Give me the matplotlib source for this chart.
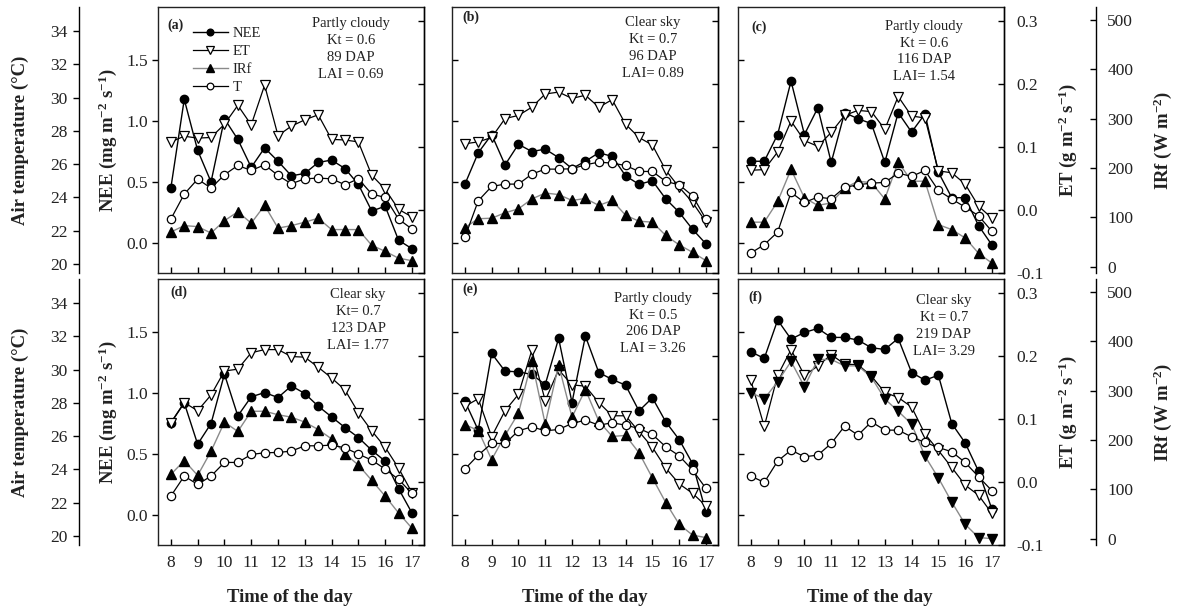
import matplotlib
matplotlib.use('Agg')
import matplotlib.pyplot as plt
from matplotlib.ticker import FormatStrFormatter

plt.rcParams['font.family'] = ['Liberation Serif', 'DejaVu Serif']
plt.rcParams['mathtext.default'] = 'regular'
plt.rcParams['axes.unicode_minus'] = False

# ---------------- data ----------------
hours = [8.0, 8.5, 9.0, 9.5, 10.0, 10.5, 11.0, 11.5, 12.0, 12.5,
         13.0, 13.5, 14.0, 14.5, 15.0, 15.5, 16.0, 16.5, 17.0]
hour_ticks = [8, 9, 10, 11, 12, 13, 14, 15, 16, 17]

NEE_a = [0.45, 1.18, 0.76, 0.50, 1.02, 0.85, 0.62, 0.78, 0.67, 0.55, 0.57, 0.66, 0.68, 0.61, 0.48, 0.26, 0.30, 0.02, -0.05]
ET_a = [0.108, 0.117, 0.114, 0.115, 0.136, 0.166, 0.135, 0.198, 0.118, 0.133, 0.143, 0.151, 0.112, 0.111, 0.108, 0.055, 0.033, 0.001, -0.011]
IRf_a = [70, 83, 81, 68, 93, 111, 88, 124, 78, 83, 90, 98, 75, 75, 75, 43, 31, 17, 12]
T_a = [22.7, 24.2, 25.1, 24.56, 25.36, 25.92, 25.62, 25.96, 25.32, 24.82, 25.12, 25.16, 25.12, 24.76, 25.12, 24.2, 24.0, 22.7, 22.1]

NEE_b = [0.48, 0.74, 0.89, 0.64, 0.81, 0.75, 0.77, 0.70, 0.61, 0.67, 0.74, 0.71, 0.55, 0.48, 0.51, 0.36, 0.25, 0.11, -0.01]
ET_b = [0.105, 0.108, 0.115, 0.145, 0.150, 0.163, 0.184, 0.187, 0.177, 0.182, 0.163, 0.175, 0.136, 0.115, 0.103, 0.063, 0.036, 0.012, -0.019]
IRf_b = [79, 97, 98, 109, 117, 137, 149, 146, 134, 138, 124, 134, 104, 92, 90, 63, 44, 29, 12]
T_b = [21.6, 23.8, 24.66, 24.8, 24.8, 25.4, 25.7, 25.7, 25.72, 25.96, 26.12, 26.06, 25.92, 25.56, 25.56, 24.96, 24.76, 24.1, 22.7]

NEE_c = [0.67, 0.67, 0.89, 1.33, 0.89, 1.11, 0.66, 1.07, 1.02, 0.98, 0.66, 1.07, 0.91, 1.06, 0.58, 0.37, 0.37, 0.14, -0.02]
ET_c = [0.063, 0.064, 0.092, 0.141, 0.110, 0.101, 0.123, 0.150, 0.158, 0.156, 0.128, 0.180, 0.149, 0.146, 0.062, 0.059, 0.041, 0.006, -0.013]
IRf_c = [90, 90, 132, 197, 139, 124, 129, 159, 173, 170, 137, 212, 173, 173, 85, 75, 58, 27, 7]
T_c = [20.66, 21.16, 21.92, 24.3, 23.7, 24.02, 23.92, 24.6, 24.76, 24.86, 24.9, 25.46, 25.26, 25.62, 24.42, 23.9, 23.42, 22.9, 21.96]

NEE_d = [0.755, 0.92, 0.58, 0.75, 1.157, 0.813, 0.97, 1.005, 0.964, 1.06, 0.997, 0.893, 0.805, 0.717, 0.635, 0.53, 0.44, 0.214, 0.014]
ET_d = [0.094, 0.126, 0.113, 0.138, 0.176, 0.179, 0.205, 0.210, 0.210, 0.199, 0.198, 0.182, 0.165, 0.146, 0.110, 0.081, 0.055, 0.022, -0.017]
IRf_d = [130, 158, 128, 177, 236, 217, 258, 258, 251, 246, 236, 221, 202, 172, 149, 118, 86, 52, 21]
T_d = [22.4, 23.6, 23.1, 23.6, 24.42, 24.42, 24.9, 25.0, 25.02, 25.1, 25.42, 25.42, 25.46, 25.3, 24.92, 24.56, 24.02, 23.4, 22.56]

NEE_e = [0.934, 0.695, 1.327, 1.181, 1.176, 1.154, 1.071, 1.451, 0.923, 1.47, 1.17, 1.113, 1.066, 0.854, 0.962, 0.764, 0.618, 0.42, 0.022]
ET_e = [0.120, 0.132, 0.072, 0.113, 0.139, 0.209, 0.129, 0.178, 0.154, 0.152, 0.126, 0.105, 0.105, 0.080, 0.055, 0.022, -0.003, -0.018, -0.038]
IRf_e = [231, 219, 160, 209, 254, 360, 232, 352, 246, 302, 238, 207, 209, 174, 123, 73, 29, 7, 2]
T_e = [24.02, 24.86, 25.56, 25.56, 26.32, 26.56, 26.32, 26.4, 26.76, 26.96, 26.66, 26.8, 26.66, 26.46, 26.1, 25.36, 24.82, 23.96, 22.86]

NEE_f = [1.341, 1.286, 1.602, 1.445, 1.5, 1.533, 1.459, 1.459, 1.437, 1.374, 1.36, 1.451, 1.17, 1.107, 1.148, 0.75, 0.591, 0.357, 0.044]
ET_f = [0.161, 0.088, 0.169, 0.210, 0.169, 0.184, 0.202, 0.187, 0.186, 0.168, 0.142, 0.134, 0.119, 0.076, 0.050, 0.023, -0.005, -0.021, -0.050]
IRf_f = [296, 283, 318, 359, 308, 363, 363, 350, 350, 327, 283, 258, 232, 167, 123, 74, 29, 2, 0]
T_f = [23.6, 23.22, 24.5, 25.16, 24.76, 24.86, 25.56, 26.6, 26.06, 26.86, 26.36, 26.36, 25.96, 25.62, 25.32, 25.06, 24.42, 23.56, 22.72]

panel_labels = ['(a)', '(b)', '(c)', '(d)', '(e)', '(f)']
panel_notes = [
    ['Partly cloudy', 'Kt = 0.6', '89 DAP', 'LAI = 0.69'],
    ['Clear sky', 'Kt = 0.7', '96 DAP', 'LAI= 0.89'],
    ['Partly cloudy', 'Kt = 0.6', '116 DAP', 'LAI= 1.54'],
    ['Clear sky', 'Kt= 0.7', '123 DAP', 'LAI= 1.77'],
    ['Partly cloudy', 'Kt = 0.5', '206 DAP', 'LAI = 3.26'],
    ['Clear sky', 'Kt = 0.7', '219 DAP', 'LAI= 3.29'],
]
NEE_all = [NEE_a, NEE_b, NEE_c, NEE_d, NEE_e, NEE_f]
ET_all = [ET_a, ET_b, ET_c, ET_d, ET_e, ET_f]
IRf_all = [IRf_a, IRf_b, IRf_c, IRf_d, IRf_e, IRf_f]
T_all = [T_a, T_b, T_c, T_d, T_e, T_f]

NEE_ticks = [0.0, 0.5, 1.0, 1.5]
ET_ticks = [-0.1, 0.0, 0.1, 0.2, 0.3]
IRf_ticks = [0, 100, 200, 300, 400, 500]
T_ticks = [20, 22, 24, 26, 28, 30, 32, 34]

# ---------------- layout ----------------
W, H = 1185, 609
fig = plt.figure(figsize=(W / 100, H / 100), dpi=100)
TXT = '#222222'

rows = [(7, 273), (279, 545)]
cols = [(158, 424), (452, 718), (738, 1004)]
note_pos = [(0.726, 0.962), (0.756, 0.965), (0.70, 0.952),
            (0.752, 0.965), (0.756, 0.952), (0.774, 0.942)]
lab_pos = [(0.034, 0.93), (0.038, 0.962), (0.052, 0.925),
           (0.045, 0.95), (0.040, 0.96), (0.038, 0.93)]

TL = 4.5  # tick length pt


def px_axes(left, top, right, bottom):
    return fig.add_axes([left / W, 1 - bottom / H, (right - left) / W, (bottom - top) / H])


for i in range(6):
    r, c = divmod(i, 3)
    top, bot = rows[r]
    left, right = cols[c]
    ax = px_axes(left, top, right, bot)
    ax.set_xlim(7.52, 17.45)
    ax.set_ylim(-0.25, 1.94)
    for s in ax.spines.values():
        s.set_linewidth(1.0)
        s.set_color('#222222')
    ax.set_xticks(hour_ticks)
    ax.tick_params(axis='x', direction='in', length=TL, width=1.0, top=False,
                   labelbottom=(r == 1), pad=7, labelsize=12.5, labelcolor=TXT)
    ax.set_yticks(NEE_ticks)
    ax.yaxis.set_major_formatter(FormatStrFormatter('%.1f'))
    ax.tick_params(axis='y', direction='out' if c == 0 else 'in', length=TL, width=1.0,
                   right=False, labelleft=(c == 0), pad=3, labelsize=12.5, labelcolor=TXT)

    axE = ax.twinx()
    axE.set_ylim(-0.1, 0.322)
    axE.set_yticks(ET_ticks)
    axE.yaxis.set_major_formatter(FormatStrFormatter('%.1f'))
    for k in ['left', 'top', 'bottom']:
        axE.spines[k].set_visible(False)
    axE.spines['right'].set_linewidth(1.0)
    axE.tick_params(axis='y', direction='in', length=TL, width=1.0,
                    labelright=(c == 2), pad=9, labelsize=12.5, labelcolor=TXT)

    axI = ax.twinx()
    axI.set_ylim(-13, 526)
    axI.set_yticks(IRf_ticks)
    for k in ['left', 'top', 'bottom']:
        axI.spines[k].set_visible(False)
    axI.spines['right'].set_position(('axes', 1.346))
    axI.spines['right'].set_linewidth(1.0)
    axI.tick_params(axis='y', direction='in', length=TL, width=1.0,
                    pad=8, labelsize=12.5, labelcolor=TXT)
    if c != 2:
        axI.set_axis_off()

    axT = ax.twinx()
    axT.set_ylim(19.46, 35.44)
    axT.set_yticks(T_ticks)
    axT.yaxis.set_ticks_position('left')
    for k in ['right', 'top', 'bottom']:
        axT.spines[k].set_visible(False)
    axT.spines['left'].set_visible(True)
    axT.spines['left'].set_position(('axes', -0.297))
    axT.spines['left'].set_linewidth(1.0)
    axT.tick_params(axis='y', direction='out', length=TL, width=1.0,
                    pad=3.5, labelsize=12.5, labelcolor=TXT)
    if c != 0:
        axT.set_axis_off()

    irf_marker = 'v' if i == 5 else '^'
    h1, = ax.plot(hours, NEE_all[i], color='black', lw=1.0, marker='o', ms=6,
                  mfc='black', mec='black', label='NEE')
    h2, = axE.plot(hours, ET_all[i], color='black', lw=0.9, marker='v', ms=6.5,
                   mfc='white', mec='black', mew=0.9, label='ET')
    h3, = axI.plot(hours, IRf_all[i], color='#8a8a8a', lw=1.0, marker=irf_marker, ms=6.5,
                   mfc='black', mec='black', label='IRf')
    h4, = axT.plot(hours, T_all[i], color='black', lw=0.9, marker='o', ms=6,
                   mfc='white', mec='black', mew=0.9, label='T')

    axT.text(lab_pos[i][0], lab_pos[i][1], panel_labels[i], transform=ax.transAxes,
             fontsize=10, fontweight='bold', color=TXT, ha='left', va='center')
    axT.text(note_pos[i][0], note_pos[i][1], '\n'.join(panel_notes[i]), transform=ax.transAxes,
             fontsize=10.5, color=TXT, ha='center', va='top', linespacing=1.38)

    if i == 0:
        axT.legend([h1, h2, h3, h4], ['NEE', 'ET', 'IRf', 'T'], loc='upper left',
                   bbox_to_anchor=(0.13, 0.925), bbox_transform=ax.transAxes,
                   frameon=False, fontsize=10.5, handlelength=2.4, handletextpad=0.35,
                   labelspacing=0.32, borderpad=0, borderaxespad=0, markerscale=0.8,
                   labelcolor=TXT)

# axis titles
for yc in (140, 412):
    fig.text(20 / W, 1 - yc / H, 'Air temperature (°C)', rotation=90, ha='center', va='center',
             fontsize=13.5, fontweight='bold', color=TXT)
    fig.text(108 / W, 1 - yc / H, 'NEE (mg m$^{-2}$ s$^{-1}$)', rotation=90, ha='center', va='center',
             fontsize=13.5, fontweight='bold', color=TXT)
    fig.text(1068 / W, 1 - yc / H, 'ET (g m$^{-2}$ s$^{-1}$)', rotation=90, ha='center', va='center',
             fontsize=13.5, fontweight='bold', color=TXT)
    fig.text(1163 / W, 1 - yc / H, 'IRf (W m$^{-2}$)', rotation=90, ha='center', va='center',
             fontsize=13.5, fontweight='bold', color=TXT)

for xc in (290, 585, 870):
    fig.text(xc / W, 1 - 597 / H, 'Time of the day', ha='center', va='center',
             fontsize=13.5, fontweight='bold', color=TXT)

fig.savefig('out.png', dpi=100, facecolor='white')
